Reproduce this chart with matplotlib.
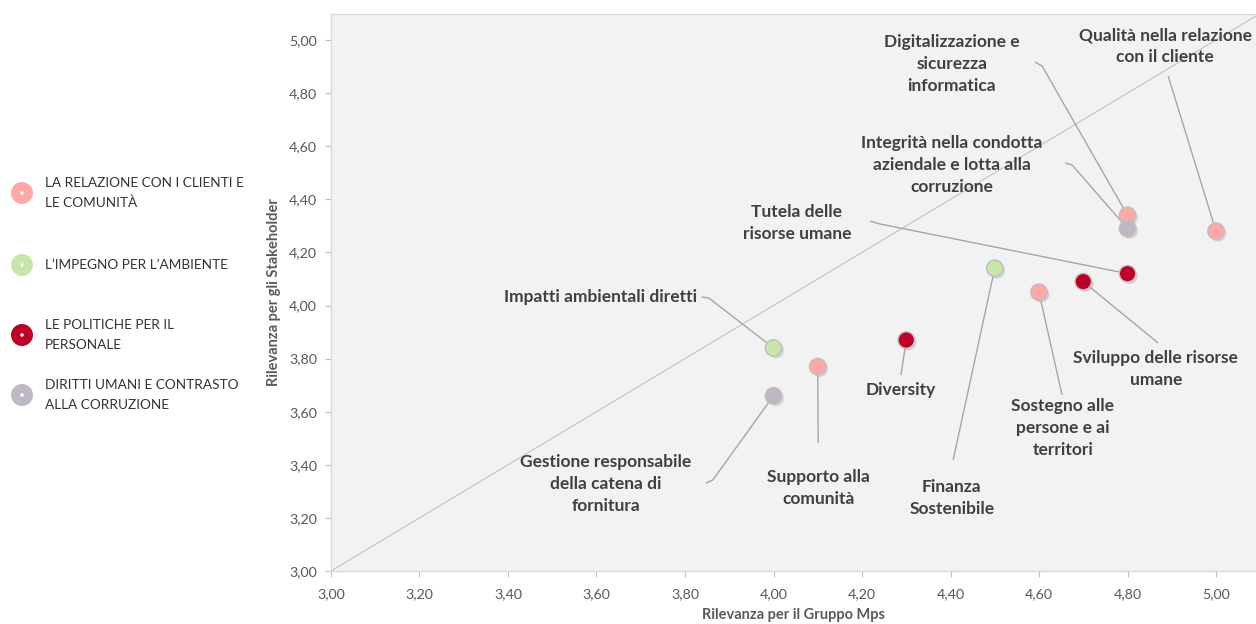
"""Matrice di materialità: rilevanza per il Gruppo vs rilevanza per gli Stakeholder."""

import matplotlib
matplotlib.use("Agg")
import matplotlib.pyplot as plt
import matplotlib.patheffects as pe
from matplotlib.ticker import FuncFormatter, MultipleLocator

plt.rcParams["font.family"] = ["Lato", "DejaVu Sans"]

# %% data
temi = [
    "Qualità nella relazione\ncon il cliente",
    "Digitalizzazione e\nsicurezza\ninformatica",
    "Integrità nella condotta\naziendale e lotta alla\ncorruzione",
    "Tutela delle\nrisorse umane",
    "Sviluppo delle risorse\numane",
    "Sostegno alle\npersone e ai\nterritori",
    "Finanza\nSostenibile",
    "Diversity",
    "Supporto alla\ncomunità",
    "Impatti ambientali diretti",
    "Gestione responsabile\ndella catena di\nfornitura",
]
rilevanza_gruppo = [5.00, 4.80, 4.80, 4.80, 4.70, 4.60, 4.50, 4.30, 4.10, 4.00, 4.00]
rilevanza_stakeholder = [4.28, 4.34, 4.29, 4.12, 4.09, 4.05, 4.14, 3.87, 3.77, 3.84, 3.66]
categoria = [0, 0, 3, 2, 2, 0, 1, 2, 0, 1, 3]

categorie = [
    "LA RELAZIONE CON I CLIENTI E\nLE COMUNITÀ",
    "L’IMPEGNO PER L’AMBIENTE",
    "LE POLITICHE PER IL\nPERSONALE",
    "DIRITTI UMANI E CONTRASTO\nALLA CORRUZIONE",
]
colori = ["#FFA8A8", "#C8E6AA", "#BE0028", "#BFB8C4"]

# label placement (data coords): text centre, optional elbow, leader start
label_pos = [
    (4.885, 4.977, None, (4.892, 4.864)),
    (4.403, 4.910, (4.607, 4.902), (4.591, 4.917)),
    (4.403, 4.529, (4.675, 4.529), (4.659, 4.537)),
    (4.053, 4.311, (4.241, 4.307), (4.218, 4.318)),
    (4.864, 3.761, None, (4.869, 3.859)),
    (4.654, 3.539, None, (4.652, 3.663)),
    (4.403, 3.275, None, (4.406, 3.418)),
    (4.288, 3.682, None, (4.288, 3.738)),
    (4.101, 3.313, None, (4.101, 3.482)),
    (3.610, 4.032, (3.854, 4.028), (3.838, 4.032)),
    (3.621, 3.328, (3.863, 3.343), (3.847, 3.331)),
]

TXT = "#404040"
AX_TXT = "#595959"
LEADER = "#A6A6A6"
GRID = "#D9D9D9"

# %% figure
fig = plt.figure(figsize=(12.56, 6.24), dpi=100)
ax = fig.add_axes([331 / 1256, 1 - 571 / 624, 925 / 1256, 557 / 624])
ax.set_facecolor("#F2F2F2")
ax.set_xlim(3.0, 3.0 + 925 / 442.5)
ax.set_ylim(3.0, 3.0 + 557 / 265.5)

# diagonal reference line
ax.plot([3.0, 5.2], [3.0, 5.2], color="#C8C8C8", lw=0.9, zorder=1)

shadow = [pe.SimplePatchShadow(offset=(1.5, -1.5), shadow_rgbFace="#8C8C8C", alpha=0.3),
          pe.Normal()]

for i, testo in enumerate(temi):
    x, y = rilevanza_gruppo[i], rilevanza_stakeholder[i]
    tx, ty, elbow, start = label_pos[i]
    pts = [start] + ([elbow] if elbow else []) + [(x, y)]
    ax.plot([p[0] for p in pts], [p[1] for p in pts], color=LEADER, lw=1.0,
            zorder=2, solid_capstyle="butt")
    ax.text(tx, ty, testo, ha="center", va="center", fontsize=12.5,
            fontweight="bold", color=TXT, linespacing=1.45, zorder=5)

for i in range(len(temi)):
    ax.scatter(rilevanza_gruppo[i], rilevanza_stakeholder[i], s=140,
               color=colori[categoria[i]], edgecolor="#BFBFBF", linewidth=1.0,
               zorder=3 + i * 0.01, path_effects=shadow)

ax.xaxis.set_major_locator(MultipleLocator(0.2))
ax.yaxis.set_major_locator(MultipleLocator(0.2))
fmt = FuncFormatter(lambda v, _: f"{v:.2f}".replace(".", ","))
ax.xaxis.set_major_formatter(fmt)
ax.yaxis.set_major_formatter(fmt)
ax.tick_params(colors="#BFBFBF", labelcolor=AX_TXT, labelsize=10.3,
               length=4, width=0.8)
ax.tick_params(axis="x", pad=8)
ax.tick_params(axis="y", pad=6)

for side in ["left", "top", "bottom"]:
    ax.spines[side].set_color(GRID)
    ax.spines[side].set_linewidth(1.0)
ax.spines["right"].set_visible(False)

ax.set_xlabel("Rilevanza per il Gruppo Mps", fontsize=10.5, fontweight="bold",
              color=AX_TXT, labelpad=6)
ax.set_ylabel("Rilevanza per gli Stakeholder", fontsize=10.5, fontweight="bold",
              color=AX_TXT, labelpad=6)

# %% legend on the left, pixel coordinates
lg = fig.add_axes([0, 0, 331 / 1256, 1])
lg.set_xlim(0, 331)
lg.set_ylim(624, 0)
lg.axis("off")
leg_y = [193, 265, 335, 395]
for k, nome in enumerate(categorie):
    lg.scatter(22, leg_y[k], s=250, color=colori[k], edgecolor="none")
    lg.scatter(22, leg_y[k], s=6, color="white", edgecolor="none")
    lg.text(45, leg_y[k], nome, ha="left", va="center", fontsize=9.8,
            color="#333333", linespacing=1.75)

fig.savefig("out.png", dpi=100)
